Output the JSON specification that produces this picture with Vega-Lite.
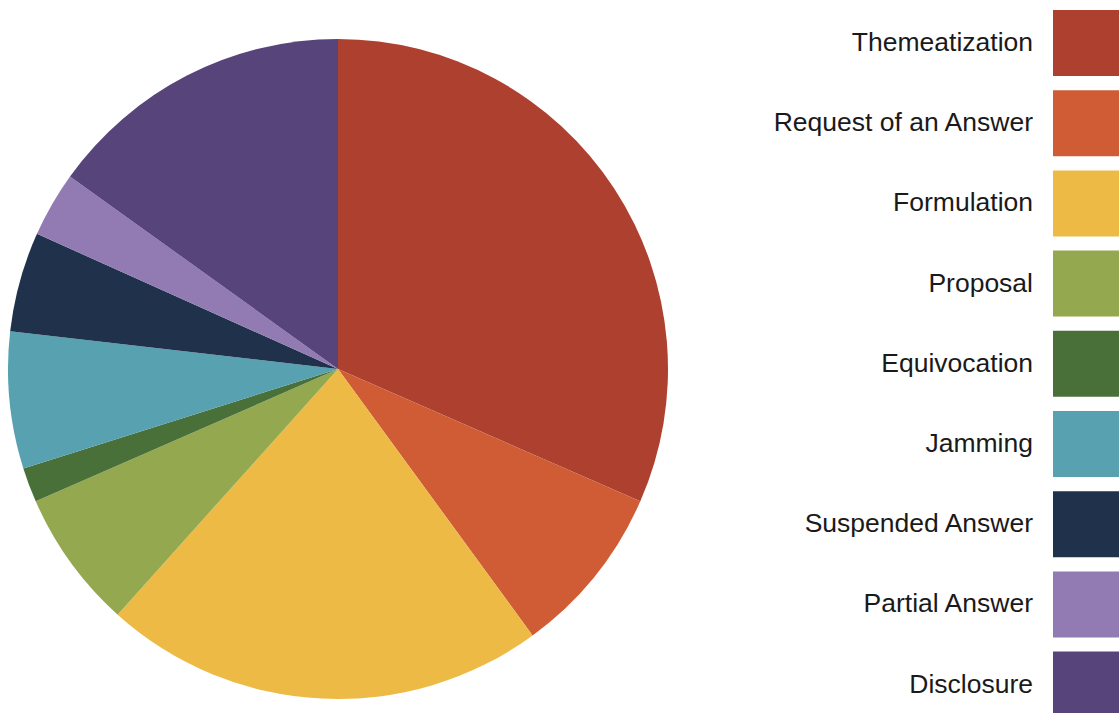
{
  "$schema": "https://vega.github.io/schema/vega-lite/v6.json",
  "width": 676,
  "height": 738,
  "padding": 0,
  "background": "white",
  "view": {"stroke": null},
  "data": {
    "values": [
      {"category": "Themeatization", "idx": 1, "value": 31.6},
      {"category": "Request of an Answer", "idx": 2, "value": 8.4},
      {"category": "Formulation", "idx": 3, "value": 21.7},
      {"category": "Proposal", "idx": 4, "value": 6.8},
      {"category": "Equivocation", "idx": 5, "value": 1.7},
      {"category": "Jamming", "idx": 6, "value": 6.7},
      {"category": "Suspended Answer", "idx": 7, "value": 4.9},
      {"category": "Partial Answer", "idx": 8, "value": 3.2},
      {"category": "Disclosure", "idx": 9, "value": 15.1}
    ]
  },
  "mark": {"type": "arc", "outerRadius": 330, "stroke": null},
  "encoding": {
    "theta": {"field": "value", "type": "quantitative", "stack": true},
    "order": {"field": "idx", "type": "quantitative"},
    "color": {
      "field": "category",
      "type": "nominal",
      "sort": null,
      "scale": {
        "domain": ["Themeatization", "Request of an Answer", "Formulation", "Proposal", "Equivocation", "Jamming", "Suspended Answer", "Partial Answer", "Disclosure"],
        "range": ["#AE402F", "#CF5C34", "#ECBA45", "#94A84F", "#4A703A", "#57A1B0", "#1F314B", "#927AB3", "#57447B"]
      },
      "legend": {
        "title": null,
        "orient": "none",
        "legendX": 1053,
        "legendY": 10,
        "padding": 0,
        "symbolType": "square",
        "symbolSize": 4356,
        "symbolStrokeWidth": 0,
        "symbolOpacity": 1,
        "labelFont": "Liberation Sans",
        "labelFontSize": 26.5,
        "labelColor": "#1a1a1a",
        "labelAlign": "right",
        "labelBaseline": "middle",
        "labelOffset": -86,
        "labelLimit": 0,
        "rowPadding": 14.2
      }
    }
  }
}
